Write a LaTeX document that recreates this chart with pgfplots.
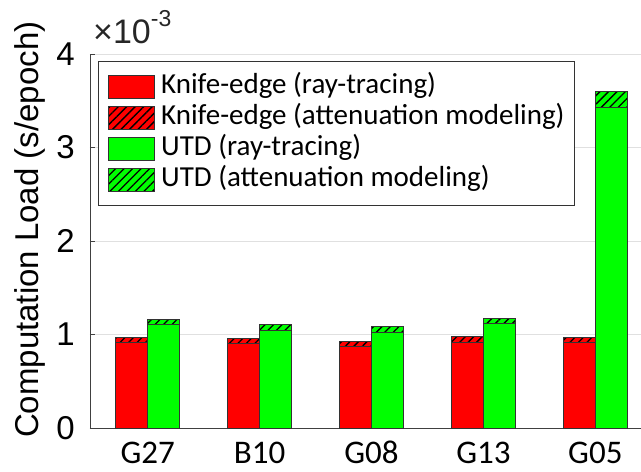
\documentclass[border=0pt]{standalone}
\usepackage{fontspec}
\setmainfont{Liberation Sans}
\newfontfamily\carlito{Carlito}
\usepackage{pgfplots}
\pgfplotsset{compat=1.18}
\usepackage{pgfplotstable}
\usetikzlibrary{patterns.meta}

% values in units of 1e-3 s/epoch
\pgfplotstableread{
x  kray  katt  uray  uatt
1  0.918 0.047 1.106 0.057
2  0.904 0.053 1.039 0.064
3  0.872 0.053 1.025 0.060
4  0.918 0.057 1.114 0.056
5  0.918 0.054 3.430 0.170
}\loadtab

\tikzset{hatch/.style={postaction={pattern={Lines[angle=45,distance=6pt,line width=1.3pt]},pattern color=black}}}

\begin{document}
\begin{tikzpicture}
\begin{axis}[
  scale only axis, width=551pt, height=374pt,
  xmin=0.484, xmax=5.408, ymin=0, ymax=4,
  axis x line*=bottom, axis y line*=left,
  axis line style={black!75, line width=0.8pt},
  xtick={1,...,5}, xticklabels={G27,B10,G08,G13,G05},
  x tick style={draw=none},
  ytick={0,...,4},
  tick align=inside, major tick length=5pt,
  y tick style={black!75, line width=0.8pt},
  ymajorgrids, grid style={black!12, line width=0.8pt},
  /pgf/number format/assume math mode=true,
  xticklabel style={font=\carlito\fontsize{33}{36}\selectfont, anchor=base, inner sep=0pt, yshift=-35pt},
  yticklabel style={font=\fontsize{33}{36}\selectfont, inner sep=0pt, xshift=-15pt},
  ylabel={Computation Load (s/epoch)},
  every axis y label/.style={at={(axis description cs:-0.109,0.53)}, rotate=90, anchor=center, font=\fontsize{33}{36}\selectfont},
  legend style={at={(0.0145,0.981)}, anchor=north west, draw=black!80, line width=0.8pt, fill=white,
    font=\carlito\fontsize{29}{31}\selectfont, inner xsep=4pt, inner ysep=10pt, row sep=0pt,
    cells={anchor=west}, nodes={inner ysep=2pt, inner xsep=6pt, text height=20pt, text depth=7pt}},
  legend image code/.code={\path (0pt,0pt); \draw[#1] (6pt,-11.5pt) rectangle (52pt,12pt);},
  bar style/.style={ybar, bar width=0.286, draw=black!80, line width=0.8pt, forget plot},
]
\addlegendimage{fill=red, draw=black!80}
\addlegendimage{fill=red, draw=black!80, hatch}
\addlegendimage{fill=green, draw=black!80}
\addlegendimage{fill=green, draw=black!80, hatch}

% totals (hatched = attenuation modeling on top)
\addplot[bar style, bar shift=-0.143, fill=red, hatch] table[x=x, y expr=\thisrow{kray}+\thisrow{katt}] {\loadtab};
\addplot[bar style, bar shift=0.143, fill=green, hatch] table[x=x, y expr=\thisrow{uray}+\thisrow{uatt}] {\loadtab};
% ray-tracing part
\addplot[bar style, bar shift=-0.143, fill=red] table[x=x, y=kray] {\loadtab};
\addplot[bar style, bar shift=0.143, fill=green] table[x=x, y=uray] {\loadtab};

\legend{Knife-edge (ray-tracing), Knife-edge (attenuation modeling), UTD (ray-tracing), UTD (attenuation modeling)}
\end{axis}
\node[anchor=base west, inner sep=0pt, text=black!85] at ([xshift=3pt,yshift=10pt]current axis.north west)
  {\fontsize{34}{36}\selectfont ×10\raisebox{17pt}{\fontsize{23}{25}\selectfont -3}};
\pgfresetboundingbox
\path[use as bounding box] ([shift={(-90pt,-43pt)}]current axis.south west) rectangle ([shift={(0pt,54pt)}]current axis.north east);
\end{tikzpicture}
\end{document}
